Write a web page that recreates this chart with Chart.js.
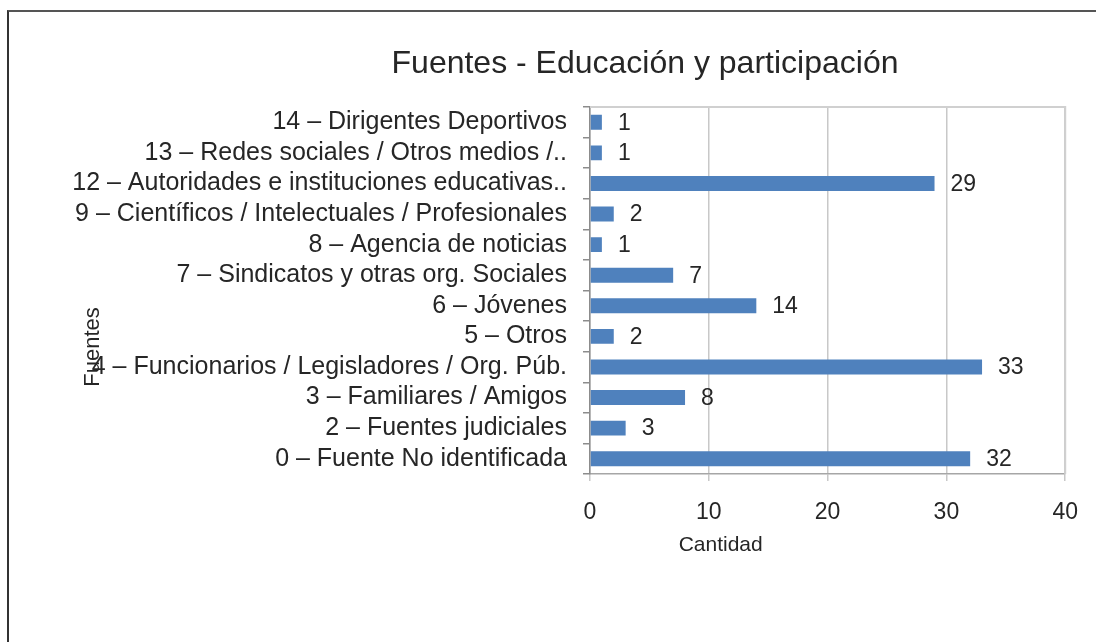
<!DOCTYPE html>
<html>
<head>
<meta charset="utf-8">
<script src="https://cdn.jsdelivr.net/npm/chart.js@4.4.1/dist/chart.umd.min.js"></script>
<style>
  html, body { margin: 0; padding: 0; background: #fff; }
  #wrap { position: relative; width: 1096px; height: 642px; }
  #frame { position: absolute; left: 7px; top: 10px; right: 0; bottom: 0; border-left: 2px solid #333; border-top: 2px solid #555; }
  canvas { position: absolute; left: 0; top: 0; }
</style>
</head>
<body>
<div id="wrap">
  <div id="frame"></div>
  <canvas id="chFuentes" width="1096" height="642"></canvas>
</div>
<script>
// ============ 数据 ============
const categorias = [
  '14 – Dirigentes Deportivos',
  '13 – Redes sociales / Otros medios /..',
  '12 – Autoridades e instituciones educativas..',
  '9 – Científicos / Intelectuales / Profesionales',
  '8 – Agencia de noticias',
  '7 – Sindicatos y otras org. Sociales',
  '6 – Jóvenes',
  '5 – Otros',
  '4 – Funcionarios / Legisladores / Org. Púb.',
  '3 – Familiares / Amigos',
  '2 – Fuentes judiciales',
  '0 – Fuente No identificada'
];
const cantidad = [1, 1, 29, 2, 1, 7, 14, 2, 33, 8, 3, 32];
const ejeX = [0, 10, 20, 30, 40];

const FONT = '"Liberation Sans", Arial, sans-serif';
const TXT = '#262626';

// 标签 + 标题 (画在画布上)
const extrasPlugin = {
  id: 'extras',
  afterDatasetsDraw(chart) {
    const { ctx, chartArea: a } = chart;
    const meta = chart.getDatasetMeta(0);
    ctx.save();
    // plot area top/right border
    ctx.strokeStyle = '#d0d0d0';
    ctx.lineWidth = 2;
    ctx.beginPath();
    ctx.moveTo(a.left, a.top);
    ctx.lineTo(a.right, a.top);
    ctx.lineTo(a.right, a.bottom);
    ctx.stroke();
    // value labels
    ctx.fillStyle = TXT;
    ctx.font = '23px ' + FONT;
    ctx.textBaseline = 'middle';
    ctx.textAlign = 'left';
    meta.data.forEach((bar, i) => {
      ctx.fillText(String(cantidad[i]), bar.x + 16, bar.y + 1);
    });
    // chart title
    ctx.textAlign = 'center';
    ctx.font = '32px ' + FONT;
    ctx.fillText('Fuentes - Educación y participación', 645, 64);
    // axis titles
    ctx.font = '21px ' + FONT;
    ctx.fillText('Cantidad', a.left + (a.right - a.left) * 0.275, 545);
    ctx.translate(93, 347);
    ctx.rotate(-Math.PI / 2);
    ctx.font = '22px ' + FONT;
    ctx.fillText('Fuentes', 0, 0);
    ctx.restore();
  }
};

const ctx = document.getElementById('chFuentes');
new Chart(ctx, {
  type: 'bar',
  data: {
    labels: categorias,
    datasets: [{
      data: cantidad,
      backgroundColor: '#4f81bd',
      borderWidth: 0,
      barPercentage: 0.49,
      categoryPercentage: 1
    }]
  },
  options: {
    indexAxis: 'y',
    responsive: false,
    animation: false,
    layout: { padding: { left: 0, top: 107, right: 29, bottom: 0 } },
    plugins: { legend: { display: false }, tooltip: { enabled: false }, title: { display: false } },
    scales: {
      x: {
        min: 0, max: 40,
        afterBuildTicks: s => { s.ticks = ejeX.map(v => ({ value: v })); },
        afterFit: s => { s.height = 642 - 474; },
        grid: { color: '#c8c8c8', lineWidth: 1.5, tickLength: 7, drawTicks: true },
        border: { color: '#a6a6a6', width: 1.5 },
        ticks: { color: TXT, font: { family: FONT, size: 23 }, padding: 18 }
      },
      y: {
        afterFit: s => { s.width = 590; },
        grid: { drawOnChartArea: false, offset: true, color: '#8c8c8c', tickLength: 7, lineWidth: 1.5 },
        border: { color: '#8c8c8c', width: 1.5 },
        ticks: { color: TXT, font: { family: FONT, size: 25 }, padding: 16, autoSkip: false }
      }
    }
  },
  plugins: [extrasPlugin]
});
</script>
</body>
</html>
